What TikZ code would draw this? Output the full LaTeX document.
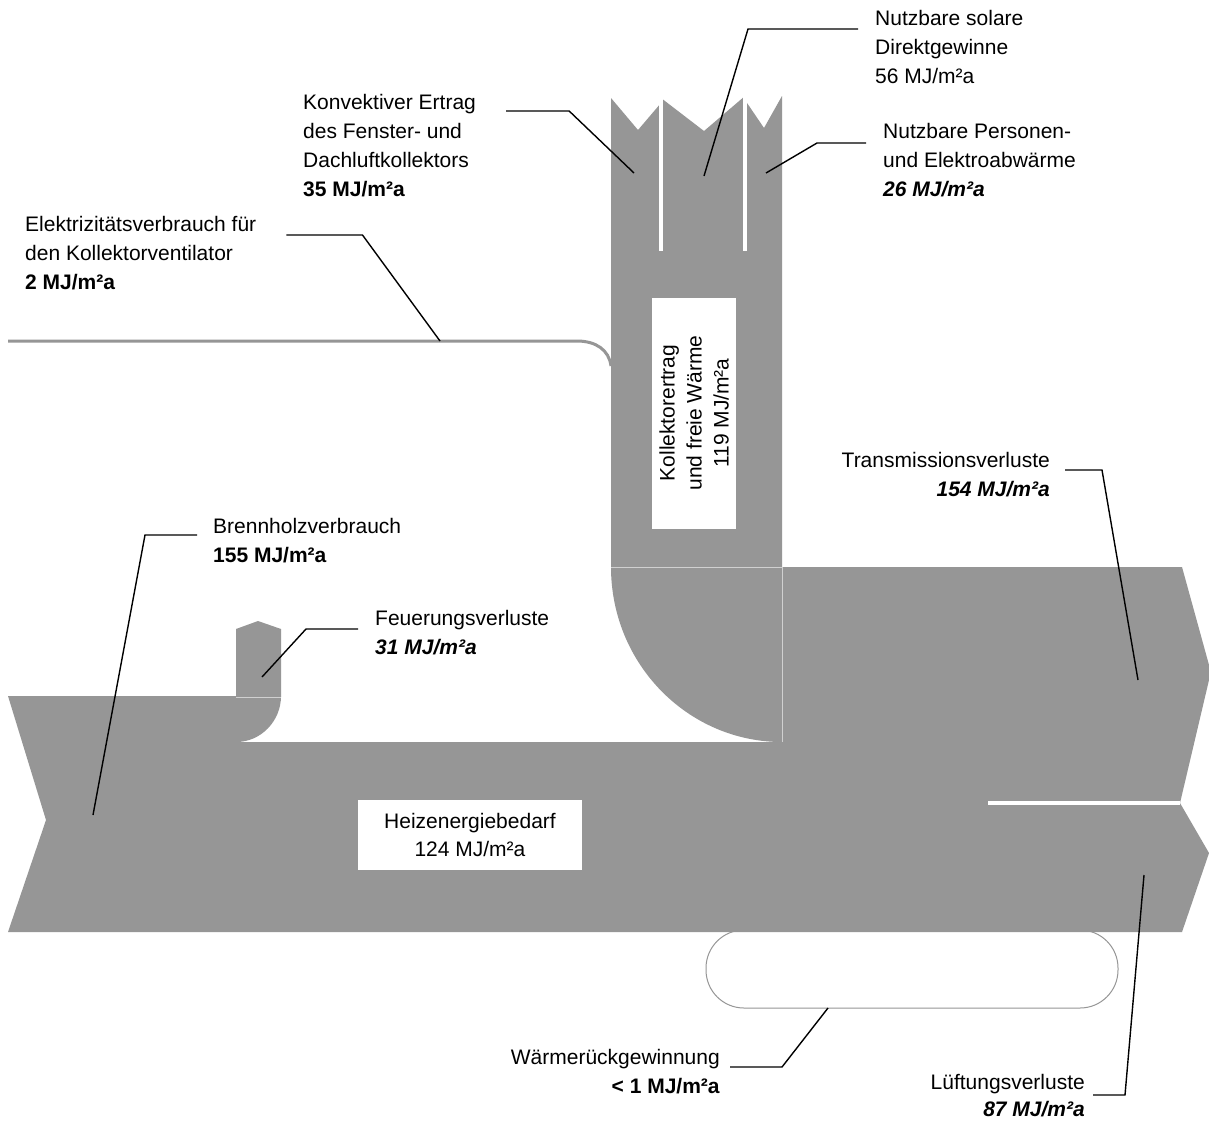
\documentclass[tikz,border=0pt]{standalone}
\usepackage{fontspec}
\setmainfont{Liberation Sans}
\usepackage{tikz}
\usetikzlibrary{positioning}
\definecolor{flowgray}{RGB}{150,150,150}
\definecolor{seamgray}{RGB}{208,208,208}
\tikzset{
    flow/.style={fill=flowgray, draw=none},
    seam/.style={draw=seamgray, line width=0.8pt},
    gap/.style={draw=white, line width=3.5pt},
    leader/.style={draw=black, line width=1.4pt},
    lbl/.style={font=\fontsize{21}{29}\selectfont, inner sep=0pt, align=left, anchor=north west},
    lblr/.style={lbl, align=right, anchor=north east},
    valbox/.style={fill=white, font=\fontsize{21}{27}\selectfont, align=center, inner sep=0pt},
}

\begin{document}
\begin{tikzpicture}[x=1pt, y=-1pt]
    \fill[white] (0,0) rectangle (1209,1122);
    \useasboundingbox (0,0) rectangle (1209,1122);
    % recovery loop and fan line
    \draw[draw=flowgray, line width=1pt, rounded corners=38pt] (706,930) rectangle (1118,1008);
    \draw[draw=flowgray, line width=3pt] (8,341) -- (577,341) .. controls (596,341) and (609,350) .. (611,366);
    % flows
    \fill[flow] (611,98) -- (638,130) -- (661,103) -- (661,98) -- (704,131) -- (745,96) -- (745,100) -- (764,128) -- (782,96) -- (782,567) -- (611,567) -- cycle;
    \fill[flow] (611,567) -- (782,567) -- (782,742) .. controls (688,742) and (611,664) .. (611,567) -- cycle;
    \fill[flow] (236,697) -- (236,629) -- (258,621) -- (281,629) -- (281,697) -- cycle;
    \fill[flow] (8,696) -- (281,696) .. controls (281,721) and (261,742) .. (236,742) -- (782,742) -- (782,567) -- (1182,567) -- (1209,665) -- (1209,680) -- (1180,803) -- (1209,853) -- (1182,932) -- (8,932) -- (46,820) -- cycle;
    \draw[seam] (611,567) -- (782,567) (782,567) -- (782,742) (236,697) -- (281,697);
    \draw[gap] (661,96) -- (661,251) (745,94) -- (745,251) (988,803) -- (1180,803);
    % value boxes
    \node[valbox, rotate=90, minimum width=231pt, minimum height=84pt] (koll) at (694,413) {Kollektorertrag\\und freie Wärme\\119 MJ/m²a};
    \node[valbox, minimum width=224pt, minimum height=70pt, font=\fontsize{21}{28}\selectfont] (heiz) at (470,835) {Heizenergiebedarf\\124 MJ/m²a};
    % leader targets
    \coordinate (solarend) at (704,176);
    \coordinate (konvend)  at (634,173);
    \coordinate (persend)  at (766,173);
    \coordinate (elekend)  at (440,341);
    \coordinate (transend) at (1138,680);
    \coordinate (brennend) at (93,815);
    \coordinate (feuerend) at (262,677);
    \coordinate (wrgend)   at (828,1008);
    \coordinate (lueftend) at (1144,875);
    % labels
    \node[lbl] (solar) at (875,10)  {Nutzbare solare\\Direktgewinne\\56 MJ/m²a};
    \node[lbl] (konv)  at (303,94)  {Konvektiver Ertrag\\des Fenster- und\\Dachluftkollektors\\\textbf{35 MJ/m²a}};
    \node[lbl] (pers)  at (883,123) {Nutzbare Personen-\\und Elektroabwärme\\\textbf{\textit{26 MJ/m²a}}};
    \node[lbl] (elek)  at (25,216)  {Elektrizitätsverbrauch für\\den Kollektorventilator\\\textbf{2 MJ/m²a}};
    \node[lblr] (trans) at (1050,452) {Transmissionsverluste\\\textbf{\textit{154 MJ/m²a}}};
    \node[lbl] (brenn) at (213,518) {Brennholzverbrauch\\\textbf{155 MJ/m²a}};
    \node[lbl] (feuer) at (375,610) {Feuerungsverluste\\\textbf{\textit{31 MJ/m²a}}};
    \node[lblr] (wrg)   at (720,1049) {Wärmerückgewinnung\\\textbf{< 1 MJ/m²a}};
    \node[lblr, font=\fontsize{21}{27}\selectfont] (lueft) at (1085,1074) {Lüftungsverluste\\\textbf{\textit{87 MJ/m²a}}};
    % leaders
    \draw[leader] ([shift={(-17,19)}]solar.north west) -- ++(-110,0) -- (solarend);
    \draw[leader] ([shift={(30,17)}]konv.north east) -- ++(63,0) -- (konvend);
    \draw[leader] ([shift={(-17,20)}]pers.north west) -- ++(-49,0) -- (persend);
    \draw[leader] ([shift={(30,19)}]elek.north east) -- ++(76,0) -- (elekend);
    \draw[leader] ([shift={(15,18)}]trans.north east) -- ++(37,0) -- (transend);
    \draw[leader] ([shift={(-16,17)}]brenn.north west) -- ++(-52,0) -- (brennend);
    \draw[leader] ([shift={(-17,19)}]feuer.north west) -- ++(-52,0) -- (feuerend);
    \draw[leader] ([shift={(10,18)}]wrg.north east) -- ++(52,0) -- (wrgend);
    \draw[leader] ([shift={(8,21)}]lueft.north east) -- ++(32,0) -- (lueftend);
\end{tikzpicture}
\end{document}
